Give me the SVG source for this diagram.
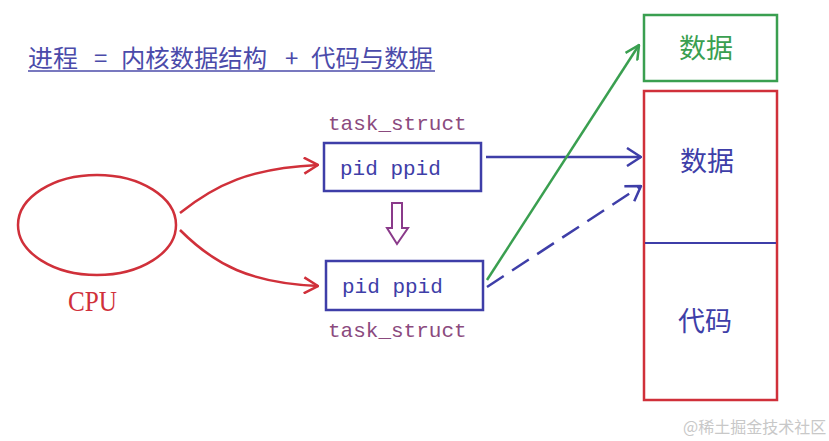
<svg xmlns="http://www.w3.org/2000/svg" width="829" height="441" viewBox="0 0 829 441">
<style>
.cjk{font-family:"Noto Sans CJK SC","Noto Sans",sans-serif}
.mono{font-family:"Liberation Mono","DejaVu Sans Mono",monospace;font-size:21px}
.blue{fill:#3e3ea8}
.ts{fill:#8b4a7e}
.red{stroke:#d0303a;fill:none;stroke-width:2.5}
</style>
<defs>
<marker id="chevR" markerWidth="16" markerHeight="18" refX="15" refY="9" orient="auto" markerUnits="userSpaceOnUse"><path d="M1,1 L15,9 L1,17" fill="none" stroke="#d0303a" stroke-width="2.5"/></marker>
<marker id="chevB" markerWidth="16" markerHeight="20" refX="15" refY="10" orient="auto" markerUnits="userSpaceOnUse"><path d="M1,1 L15,10 L1,19" fill="none" stroke="#3e3ea8" stroke-width="2.5"/></marker>
<marker id="chevG" markerWidth="16" markerHeight="16" refX="15" refY="8" orient="auto" markerUnits="userSpaceOnUse"><path d="M1,1 L15,8 L1,15" fill="none" stroke="#3a9f50" stroke-width="2.5"/></marker>
</defs>
<rect width="829" height="441" fill="#ffffff"/>
<g id="title" class="cjk" fill="#4b4baa" font-size="24">
<text x="28" y="67" textLength="50" lengthAdjust="spacingAndGlyphs">进程</text>
<text x="94" y="67">=</text>
<text x="121" y="67" textLength="146" lengthAdjust="spacingAndGlyphs">内核数据结构</text>
<text x="285" y="67">+</text>
<text x="311" y="67" textLength="122" lengthAdjust="spacingAndGlyphs">代码与数据</text>
<line x1="28" y1="71" x2="435" y2="71" stroke="#4b4baa" stroke-width="1.5"/>
</g>
<g id="cpu">
<ellipse cx="97" cy="225" rx="79" ry="50" class="red"/>
<text x="68" y="311" font-family="Liberation Serif,serif" font-size="30" fill="#d0303a" textLength="49" lengthAdjust="spacingAndGlyphs">CPU</text>
</g>
<g id="task1">
<text x="328" y="130" class="mono ts">task_struct</text>
<rect x="324" y="143" width="157" height="48" fill="none" stroke="#3e3ea8" stroke-width="2.5"/>
<text x="340" y="175" class="mono blue">pid ppid</text>
</g>
<g id="task2">
<rect x="326" y="261" width="157" height="49" fill="none" stroke="#3e3ea8" stroke-width="2.5"/>
<text x="342" y="293" class="mono blue">pid ppid</text>
<text x="328" y="337" class="mono ts">task_struct</text>
</g>
<g id="copyArrow">
<path d="M392,203 L402,203 L402,228 L408,228 L397,244 L387,228 L392,228 Z" fill="none" stroke="#8a3a8a" stroke-width="2"/>
</g>
<g id="greenData">
<rect x="644" y="15" width="133" height="66" fill="none" stroke="#3a9f50" stroke-width="2.5"/>
<text x="706" y="58" class="cjk" font-size="27" fill="#3a9f50" text-anchor="middle">数据</text>
</g>
<g id="memory">
<rect x="644" y="91" width="133" height="309" fill="none" stroke="#d0303a" stroke-width="2.5"/>
<line x1="645" y1="243" x2="776" y2="243" stroke="#3e3ea8" stroke-width="2"/>
<text x="707" y="171" class="cjk blue" font-size="27" text-anchor="middle">数据</text>
<text x="705" y="331" class="cjk blue" font-size="27" text-anchor="middle">代码</text>
</g>
<g id="connectors">
<path d="M180,213 C215,185 250,168 318,165" class="red" marker-end="url(#chevR)"/>
<path d="M180,230 C215,265 250,283 318,286" class="red" marker-end="url(#chevR)"/>
<line x1="486" y1="157" x2="641" y2="157" stroke="#3e3ea8" stroke-width="2.5" marker-end="url(#chevB)"/>
<line x1="487" y1="280" x2="639" y2="45" stroke="#3a9f50" stroke-width="2.5" marker-end="url(#chevG)"/>
<line x1="487" y1="287" x2="641" y2="186" stroke="#3e3ea8" stroke-width="2.5" stroke-dasharray="20,10" marker-end="url(#chevB)"/>
</g>
<text x="683" y="433" class="cjk" font-size="16" fill="#c8c8c8">@稀土掘金技术社区</text>
</svg>
